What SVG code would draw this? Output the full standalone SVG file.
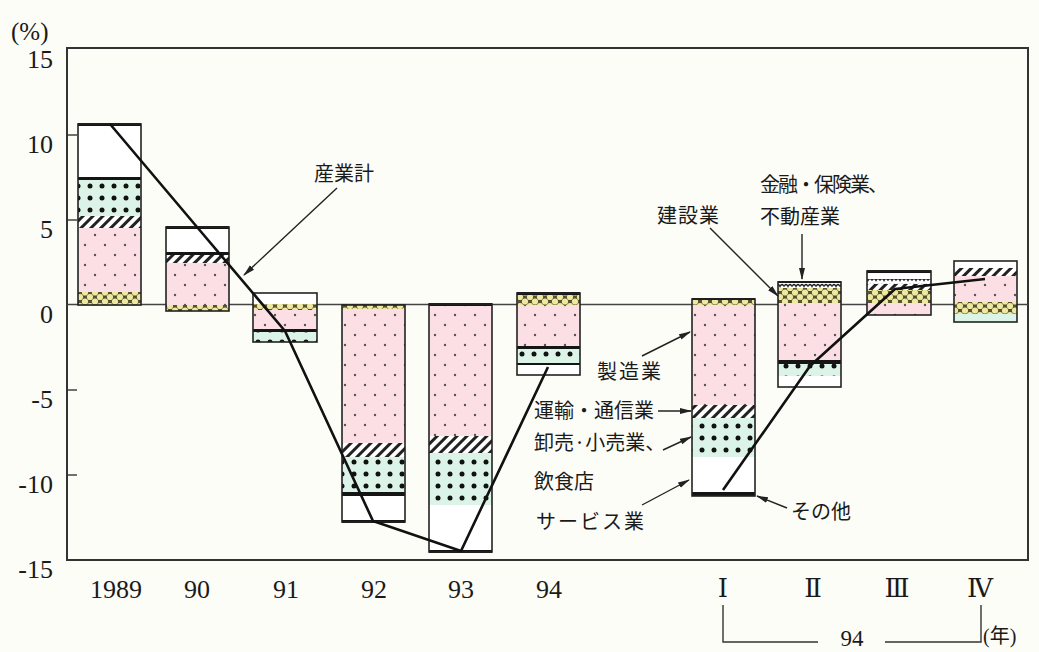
<svg xmlns="http://www.w3.org/2000/svg" width="1039" height="652" viewBox="0 0 1039 652">
<style>
.num{font-family:"Liberation Serif","DejaVu Serif",serif;fill:#1a1a1a}
.jp{font-family:"Noto Sans CJK JP","Noto Sans CJK SC",sans-serif;fill:#1a1a1a;font-size:20px}
.ol{fill:none;stroke:#222;stroke-width:1.6}
.blk{fill:#151515}
.frame{fill:none;stroke:#333;stroke-width:2}
.tick{stroke:#333;stroke-width:1.4}
.arr{stroke:#222;stroke-width:1.4;fill:none;marker-end:url(#ah)}
.tot{fill:none;stroke:#111;stroke-width:2.6;stroke-linejoin:round}
.brk{fill:none;stroke:#333;stroke-width:1.4}
</style>
<defs>
<marker id="ah" viewBox="0 0 12 8" refX="11" refY="4" markerWidth="12" markerHeight="8" markerUnits="userSpaceOnUse" orient="auto">
<path d="M0,1 L12,4 L0,7 Z" fill="#222"/>
</marker>
<pattern id="pPink" width="20" height="20" patternUnits="userSpaceOnUse">
<rect width="20" height="20" fill="#fbdfe4"/>
<circle cx="5" cy="5" r="1.2" fill="#555"/>
<circle cx="15" cy="15" r="1.2" fill="#555"/>
</pattern>
<pattern id="pGreen" width="12" height="12" patternUnits="userSpaceOnUse">
<rect width="12" height="12" fill="#dcf3e8"/>
<circle cx="6" cy="6" r="2.5" fill="#111"/>
</pattern>
<pattern id="pHatch" width="7" height="7" patternUnits="userSpaceOnUse" patternTransform="rotate(45)">
<rect width="7" height="7" fill="#fff"/>
<line x1="1.5" y1="0" x2="1.5" y2="7" stroke="#222" stroke-width="3"/>
</pattern>
<pattern id="pYellow" width="10" height="9" patternUnits="userSpaceOnUse">
<rect width="10" height="9" fill="#55512f"/>
<circle cx="5" cy="4.5" r="3.1" fill="#eee9a0"/>
<circle cx="0" cy="0" r="3.1" fill="#eee9a0"/>
<circle cx="10" cy="0" r="3.1" fill="#eee9a0"/>
<circle cx="0" cy="9" r="3.1" fill="#eee9a0"/>
<circle cx="10" cy="9" r="3.1" fill="#eee9a0"/>
</pattern>
<pattern id="pWave" width="8" height="6" patternUnits="userSpaceOnUse">
<rect width="8" height="6" fill="#fff"/>
<path d="M0 4.5 Q2 0.5 4 4.5 Q6 0.5 8 4.5" fill="none" stroke="#222" stroke-width="1.3"/>
</pattern>
</defs>
<rect width="1039" height="652" fill="#fdfdf8"/>

<g id="axes">
<rect class="frame" x="67" y="48" width="961" height="512"/>
<line x1="67" y1="304.5" x2="1028" y2="304.5" stroke="#444" stroke-width="1.3"/>
<line class="tick" x1="67" y1="135" x2="77" y2="135"/>
<line class="tick" x1="67" y1="220" x2="77" y2="220"/>
<line class="tick" x1="67" y1="390" x2="77" y2="390"/>
<line class="tick" x1="67" y1="475" x2="77" y2="475"/>
<text class="num" x="11" y="40" font-size="25">(%)</text>
<g class="num" font-size="26" text-anchor="end">
<text x="53" y="68">15</text>
<text x="53" y="153">10</text>
<text x="53" y="238">5</text>
<text x="53" y="323">0</text>
<text x="53" y="408">-5</text>
<text x="53" y="493">-10</text>
<text x="53" y="578">-15</text>
</g>
<g class="num" font-size="26" text-anchor="middle">
<text x="116" y="598">1989</text>
<text x="197" y="598">90</text>
<text x="286" y="598">91</text>
<text x="374" y="598">92</text>
<text x="461" y="598">93</text>
<text x="549" y="598">94</text>
<text x="723" y="597">Ⅰ</text>
<text x="813" y="597">Ⅱ</text>
<text x="897" y="597">Ⅲ</text>
<text x="980" y="597">Ⅳ</text>
</g>
<path class="brk" d="M723,605 V642 H818 M885,642 H981 V605"/>
<text class="num" x="852" y="646" font-size="23" text-anchor="middle">94</text>
<text x="983" y="643" font-size="20" style="font-family:'Liberation Serif','Noto Sans CJK JP',serif;fill:#1a1a1a">(年)</text>
</g>

<g id="bar-1989">
<rect x="78" y="124" width="63" height="53" fill="#fff"/>
<rect x="78" y="180" width="63" height="36" fill="url(#pGreen)"/>
<rect x="78" y="216" width="63" height="12" fill="url(#pHatch)"/>
<rect x="78" y="228" width="63" height="64" fill="url(#pPink)"/>
<rect x="78" y="292" width="63" height="13" fill="url(#pYellow)"/>
<rect class="blk" x="78" y="177" width="63" height="3"/>
<rect class="blk" x="78" y="123" width="63" height="3"/>
<rect class="ol" x="78" y="124" width="63" height="181"/>
</g>

<g id="bar-1990">
<rect x="166" y="227" width="63" height="25" fill="#fff"/>
<rect x="166" y="255" width="63" height="8" fill="url(#pHatch)"/>
<rect x="166" y="263" width="63" height="42" fill="url(#pPink)"/>
<rect x="166" y="305" width="63" height="6" fill="url(#pYellow)"/>
<rect class="blk" x="166" y="252" width="63" height="3"/>
<rect class="blk" x="166" y="226" width="63" height="3"/>
<rect class="ol" x="166" y="227" width="63" height="84"/>
</g>

<g id="bar-1991">
<rect x="253" y="293" width="64" height="11" fill="#fff"/>
<rect x="253" y="304" width="64" height="6" fill="url(#pYellow)"/>
<rect x="253" y="310" width="64" height="19" fill="url(#pPink)"/>
<rect x="253" y="332" width="64" height="10" fill="url(#pGreen)"/>
<rect class="blk" x="253" y="329" width="64" height="3"/>
<rect class="ol" x="253" y="293" width="64" height="49"/>
</g>

<g id="bar-1992">
<rect x="342" y="305" width="63" height="4" fill="url(#pYellow)"/>
<rect x="342" y="309" width="63" height="134" fill="url(#pPink)"/>
<rect x="342" y="443" width="63" height="14" fill="url(#pHatch)"/>
<rect x="342" y="457" width="63" height="35" fill="url(#pGreen)"/>
<rect x="342" y="496" width="63" height="26" fill="#fff"/>
<rect class="blk" x="342" y="492" width="63" height="4"/>
<rect class="blk" x="342" y="520" width="63" height="3"/>
<rect class="ol" x="342" y="305" width="63" height="217"/>
</g>

<g id="bar-1993">
<rect x="429" y="305" width="63" height="131" fill="url(#pPink)"/>
<rect x="429" y="436" width="63" height="17" fill="url(#pHatch)"/>
<rect x="429" y="453" width="63" height="52" fill="url(#pGreen)"/>
<rect x="429" y="505" width="63" height="47" fill="#fff"/>
<rect class="blk" x="429" y="303" width="63" height="3"/>
<rect class="blk" x="429" y="550" width="63" height="3"/>
<rect class="ol" x="429" y="304" width="63" height="248"/>
</g>

<g id="bar-1994">
<rect x="517" y="295" width="63" height="10" fill="url(#pYellow)"/>
<rect x="517" y="305" width="63" height="41" fill="url(#pPink)"/>
<rect x="517" y="349" width="63" height="14" fill="url(#pGreen)"/>
<rect x="517" y="365" width="63" height="10" fill="#fff"/>
<rect class="blk" x="517" y="292" width="63" height="3"/>
<rect class="blk" x="517" y="346" width="63" height="3"/>
<rect class="blk" x="517" y="363" width="63" height="2"/>
<rect class="ol" x="517" y="293" width="63" height="82"/>
</g>

<g id="bar-Q1">
<rect x="692" y="299" width="63" height="6" fill="url(#pYellow)"/>
<rect x="692" y="305" width="63" height="100" fill="url(#pPink)"/>
<rect x="692" y="405" width="63" height="13" fill="url(#pHatch)"/>
<rect x="692" y="418" width="63" height="39" fill="url(#pGreen)"/>
<rect x="692" y="457" width="63" height="35" fill="#fff"/>
<rect class="blk" x="692" y="492" width="63" height="4"/>
<rect class="blk" x="692" y="298" width="63" height="2"/>
<rect class="ol" x="692" y="299" width="63" height="197"/>
</g>

<g id="bar-Q2">
<rect x="778" y="282" width="63" height="6" fill="url(#pWave)"/>
<rect x="778" y="288" width="63" height="15" fill="url(#pYellow)"/>
<rect x="778" y="303" width="63" height="57" fill="url(#pPink)"/>
<rect x="778" y="364" width="63" height="12" fill="url(#pGreen)"/>
<rect x="778" y="376" width="63" height="11" fill="#fff"/>
<rect class="blk" x="778" y="360" width="63" height="4"/>
<rect class="blk" x="778" y="281" width="63" height="2"/>
<rect class="ol" x="778" y="282" width="63" height="105"/>
</g>

<g id="bar-Q3">
<rect x="867" y="271" width="64" height="8" fill="#fff"/>
<rect x="867" y="279" width="64" height="5" fill="url(#pWave)"/>
<rect x="867" y="284" width="64" height="6" fill="url(#pHatch)"/>
<rect x="867" y="290" width="64" height="13" fill="url(#pYellow)"/>
<rect x="867" y="303" width="64" height="12" fill="url(#pPink)"/>
<rect class="blk" x="867" y="270" width="64" height="3"/>
<rect class="ol" x="867" y="271" width="64" height="44"/>
</g>

<g id="bar-Q4">
<rect x="954" y="261" width="63" height="7" fill="#fff"/>
<rect x="954" y="268" width="63" height="8" fill="url(#pHatch)"/>
<rect x="954" y="276" width="63" height="26" fill="url(#pPink)"/>
<rect x="954" y="302" width="63" height="12" fill="url(#pYellow)"/>
<rect x="954" y="314" width="63" height="8" fill="#dcf3e8"/>
<rect class="ol" x="954" y="261" width="63" height="61"/>
</g>

<g id="total-line">
<polyline class="tot" points="110,124 197,227 285,331 373,521 461,551 548,367"/>
<polyline class="tot" points="723,490 810,366 895,289 985,279"/>
</g>

<g id="labels">
<text class="jp" x="314" y="181" font-size="21">産業計</text>
<text class="jp" x="657" y="223" font-size="21" letter-spacing="1">建設業</text>
<text class="jp" x="760" y="192" letter-spacing="-2">金融・保険業、</text>
<text class="jp" x="760" y="224">不動産業</text>
<text class="jp" x="597" y="379" font-size="21" letter-spacing="2">製造業</text>
<text class="jp" x="534" y="418">運輸・通信業</text>
<text class="jp" x="534" y="450">卸売·小売業、</text>
<text class="jp" x="534" y="489">飲食店</text>
<text class="jp" x="536" y="529" font-size="21" letter-spacing="2">サービス業</text>
<text class="jp" x="791" y="519" font-size="21">その他</text>
</g>

<g id="connectors">
<line class="arr" x1="337" y1="188" x2="244" y2="275"/>
<line class="arr" x1="710" y1="228" x2="778" y2="296"/>
<line class="arr" x1="802" y1="234" x2="802" y2="279"/>
<line class="arr" x1="642" y1="356" x2="690" y2="332"/>
<line class="arr" x1="658" y1="411" x2="691" y2="411"/>
<line class="arr" x1="663" y1="450" x2="691" y2="437"/>
<line class="arr" x1="642" y1="505" x2="689" y2="480"/>
<line class="arr" x1="787" y1="508" x2="757" y2="496"/>
</g>
</svg>
